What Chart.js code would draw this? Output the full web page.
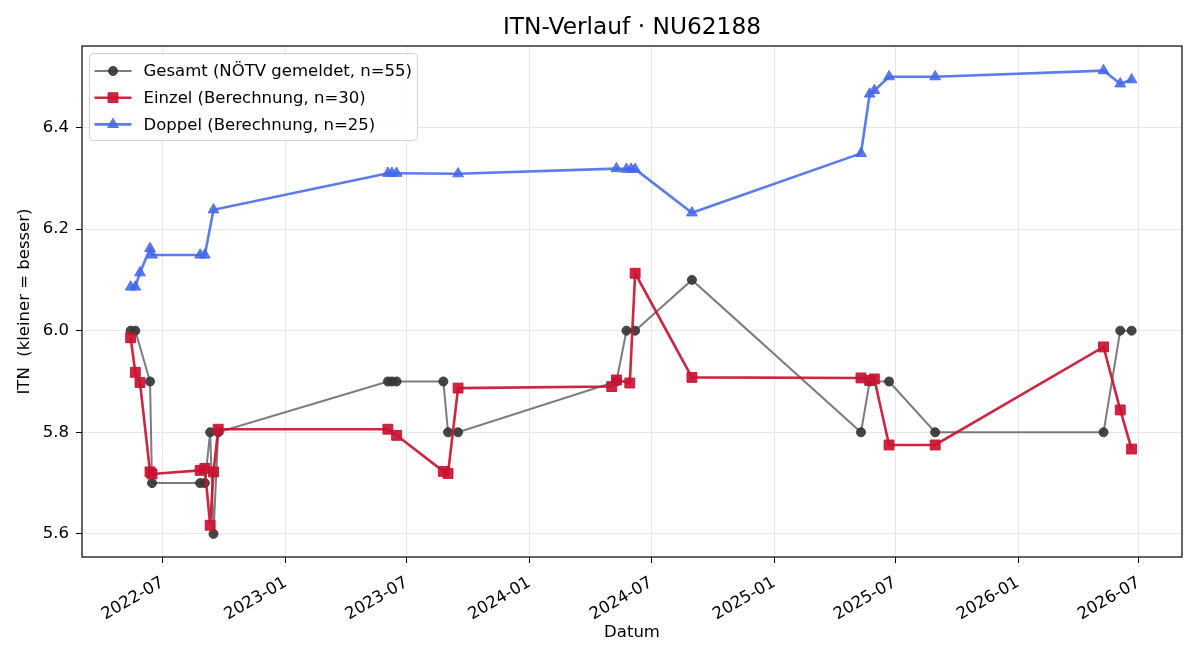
<!DOCTYPE html>
<html><head><meta charset="utf-8">
<script src="https://cdn.jsdelivr.net/npm/chart.js@4.4.1/dist/chart.umd.min.js"></script>
<style>html,body{margin:0;padding:0;background:#fff;}canvas{display:block;}</style>
</head><body>
<canvas id="c" width="1200" height="660"></canvas>
<script>
// ---------- data ----------
const chartTitle = 'ITN-Verlauf · NU62188';
const xAxisTitle = 'Datum';
const yAxisTitle = 'ITN  (kleiner = besser)';
const xTickLabels = ['2022-07','2023-01','2023-07','2024-01','2024-07','2025-01','2025-07','2026-01','2026-07'];
const yTickValues = [5.6, 5.8, 6.0, 6.2, 6.4];
const seriesNames = ['Gesamt (NÖTV gemeldet, n=55)', 'Einzel (Berechnung, n=30)', 'Doppel (Berechnung, n=25)'];

const gesamtDates = ['2022-05-14','2022-05-21','2022-06-12','2022-06-15','2022-08-26','2022-09-02','2022-09-10','2022-09-15','2022-09-22',
  '2023-06-03','2023-06-09','2023-06-16','2023-08-25','2023-09-01','2023-09-16',
  '2024-05-10','2024-05-25','2024-06-07','2024-08-31',
  '2025-05-11','2025-05-24','2025-06-22','2025-08-30',
  '2026-05-09','2026-06-03','2026-06-20'];
const gesamtValues = [6.0,6.0,5.9,5.7,5.7,5.7,5.8,5.6,5.8,
  5.9,5.9,5.9,5.9,5.8,5.8,
  5.9,6.0,6.0,6.1,
  5.8,5.9,5.9,5.8,
  5.8,6.0,6.0];

const einzelDates = ['2022-05-14','2022-05-21','2022-05-28','2022-06-12','2022-06-15','2022-08-26','2022-09-02','2022-09-10','2022-09-15','2022-09-22',
  '2023-06-03','2023-06-16','2023-08-25','2023-09-01','2023-09-16',
  '2024-05-03','2024-05-10','2024-05-30','2024-06-07','2024-08-31',
  '2025-05-11','2025-05-24','2025-05-31','2025-06-22','2025-08-30',
  '2026-05-09','2026-06-03','2026-06-20'];
const einzelValues = [5.986,5.918,5.898,5.722,5.718,5.725,5.729,5.617,5.722,5.806,
  5.806,5.794,5.723,5.719,5.887,
  5.890,5.903,5.897,6.113,5.908,
  5.907,5.902,5.905,5.775,5.775,
  5.968,5.844,5.767];

const doppelDates = ['2022-05-14','2022-05-21','2022-05-28','2022-06-12','2022-06-15','2022-08-26','2022-09-02','2022-09-15',
  '2023-06-03','2023-06-09','2023-06-16','2023-09-16',
  '2024-05-10','2024-05-25','2024-06-01','2024-06-07','2024-08-31',
  '2025-05-11','2025-05-24','2025-05-31','2025-06-22','2025-08-30',
  '2026-05-09','2026-06-03','2026-06-20'];
const doppelValues = [6.086,6.086,6.114,6.162,6.149,6.149,6.149,6.238,
  6.310,6.310,6.310,6.309,
  6.319,6.318,6.318,6.318,6.232,
  6.349,6.466,6.473,6.500,6.500,
  6.512,6.486,6.494];

// ---------- helpers ----------
const DAY = 86400000;
function ts(s){ const p = s.split('-').map(Number); return Date.UTC(p[0], p[1]-1, p[2] || 1); }
function pts(dates, vals){ return dates.map((d,i)=>({x: ts(d), y: vals[i]})); }
function fmtMonth(v){ const d = new Date(v); return d.getUTCFullYear() + '-' + String(d.getUTCMonth()+1).padStart(2,'0'); }

const FONT = 'DejaVu Sans';
Chart.defaults.font.family = FONT;
Chart.defaults.color = '#000';

const styles = [
  {line:'rgba(80,80,80,0.75)', fill:'rgba(55,55,55,0.92)', lw:2.0, shape:'circle', r:4.5, order:2},
  {line:'rgba(200,20,50,0.92)', fill:'rgba(200,20,50,0.92)', lw:2.6, shape:'rect', r:7, order:1},
  {line:'rgba(70,105,235,0.88)', fill:'rgba(70,105,235,0.88)', lw:2.6, shape:'triangle', r:6.2, order:0}
];
const seriesData = [pts(gesamtDates,gesamtValues), pts(einzelDates,einzelValues), pts(doppelDates,doppelValues)];

const datasets = seriesData.map((d,i)=>({
  label: seriesNames[i], data: d,
  borderColor: styles[i].line, backgroundColor: styles[i].fill,
  borderWidth: styles[i].lw, tension: 0,
  pointStyle: styles[i].shape, pointRadius: styles[i].r, pointHoverRadius: styles[i].r,
  pointBackgroundColor: styles[i].fill, pointBorderColor: styles[i].fill, pointBorderWidth: 1,
  order: styles[i].order
}));

function drawMarker(ctx, shape, x, y, r){
  ctx.beginPath();
  if (shape === 'circle') { ctx.arc(x, y, r, 0, Math.PI*2); }
  else if (shape === 'rect') { const s = r*Math.SQRT1_2; ctx.rect(x-s, y-s, 2*s, 2*s); }
  else { for (let k=0;k<3;k++){ const a = k*2*Math.PI/3; const px = x + Math.sin(a)*r, py = y - Math.cos(a)*r; k?ctx.lineTo(px,py):ctx.moveTo(px,py);} ctx.closePath(); }
  ctx.fill(); ctx.stroke();
}

const framePlugin = {
  id: 'frame',
  afterDraw(chart){
    const {ctx, chartArea:a} = chart;
    ctx.save();
    // title centred over the axes
    ctx.fillStyle = '#000';
    ctx.font = '23.3px "' + FONT + '"'; ctx.textAlign = 'center'; ctx.textBaseline = 'middle';
    ctx.fillText(chartTitle, (a.left + a.right)/2, 28);
    ctx.restore();
  },
  afterDatasetsDraw(chart){
    const {ctx, chartArea:a} = chart;
    ctx.save();
    ctx.strokeStyle = '#000'; ctx.lineWidth = 1.2;
    ctx.strokeRect(a.left, a.top, a.right-a.left, a.bottom-a.top);
    // legend
    const x0 = a.left + 7.5, y0 = a.top + 7.5, w = 328, h = 87, rr = 4;
    ctx.beginPath();
    ctx.moveTo(x0+rr, y0); ctx.lineTo(x0+w-rr, y0); ctx.arcTo(x0+w, y0, x0+w, y0+rr, rr);
    ctx.lineTo(x0+w, y0+h-rr); ctx.arcTo(x0+w, y0+h, x0+w-rr, y0+h, rr);
    ctx.lineTo(x0+rr, y0+h); ctx.arcTo(x0, y0+h, x0, y0+h-rr, rr);
    ctx.lineTo(x0, y0+rr); ctx.arcTo(x0, y0, x0+rr, y0, rr); ctx.closePath();
    ctx.fillStyle = 'rgba(255,255,255,0.85)'; ctx.fill();
    ctx.strokeStyle = '#d0d0d0'; ctx.lineWidth = 1; ctx.stroke();
    ctx.font = '16.5px "' + FONT + '"'; ctx.textBaseline = 'middle'; ctx.textAlign = 'left';
    seriesNames.forEach((name,i)=>{
      const cy = y0 + 17.5 + i*26.7;
      const st = styles[i];
      ctx.strokeStyle = st.line; ctx.lineWidth = st.lw;
      ctx.beginPath(); ctx.moveTo(x0+5, cy); ctx.lineTo(x0+42, cy); ctx.stroke();
      ctx.fillStyle = st.fill; ctx.strokeStyle = st.fill; ctx.lineWidth = 1;
      drawMarker(ctx, st.shape, x0+23.5, cy, st.r);
      ctx.fillStyle = '#000';
      ctx.fillText(name, x0 + 54, cy + 1);
    });
    ctx.restore();
  }
};

const x0ts = ts('2022-07-01');
new Chart(document.getElementById('c'), {
  type: 'line',
  data: { datasets },
  plugins: [framePlugin],
  options: {
    responsive: false, animation: false, devicePixelRatio: 1,
    layout: { padding: { left: 0, right: 18, top: 46, bottom: 0 } },
    plugins: {
      legend: { display: false }, tooltip: { enabled: false },
      title: { display: false }
    },
    scales: {
      x: {
        type: 'linear',
        min: x0ts - 120.8*DAY, max: x0ts + 1525.4*DAY,
        afterBuildTicks(scale){ scale.ticks = xTickLabels.map(l => ({ value: ts(l + '-01') })); },
        afterFit(scale){ scale.height = 103; },
        ticks: { autoSkip: false, minRotation: 30, maxRotation: 30, padding: 10, font: { size: 16.5 }, color: '#000', callback: v => fmtMonth(v) },
        grid: { color: '#e6e6e6', lineWidth: 1, tickColor: '#000', tickLength: 6, drawTicks: true },
        border: { display: false },
        title: { display: true, text: xAxisTitle, color: '#000', font: { size: 16.5 }, padding: { top: 0, bottom: 17 } }
      },
      y: {
        type: 'linear', min: 5.5545, max: 6.5604,
        afterBuildTicks(scale){ scale.ticks = yTickValues.map(v => ({ value: v })); },
        afterFit(scale){ scale.width = 82; },
        ticks: { padding: 7, font: { size: 16.5 }, color: '#000', callback: v => v.toFixed(1) },
        grid: { color: '#e6e6e6', lineWidth: 1, tickColor: '#000', tickLength: 6 },
        border: { display: false },
        title: { display: true, text: yAxisTitle, color: '#000', font: { size: 16.5 }, padding: { top: 15, bottom: 0 } }
      }
    }
  }
});
</script>
</body></html>
